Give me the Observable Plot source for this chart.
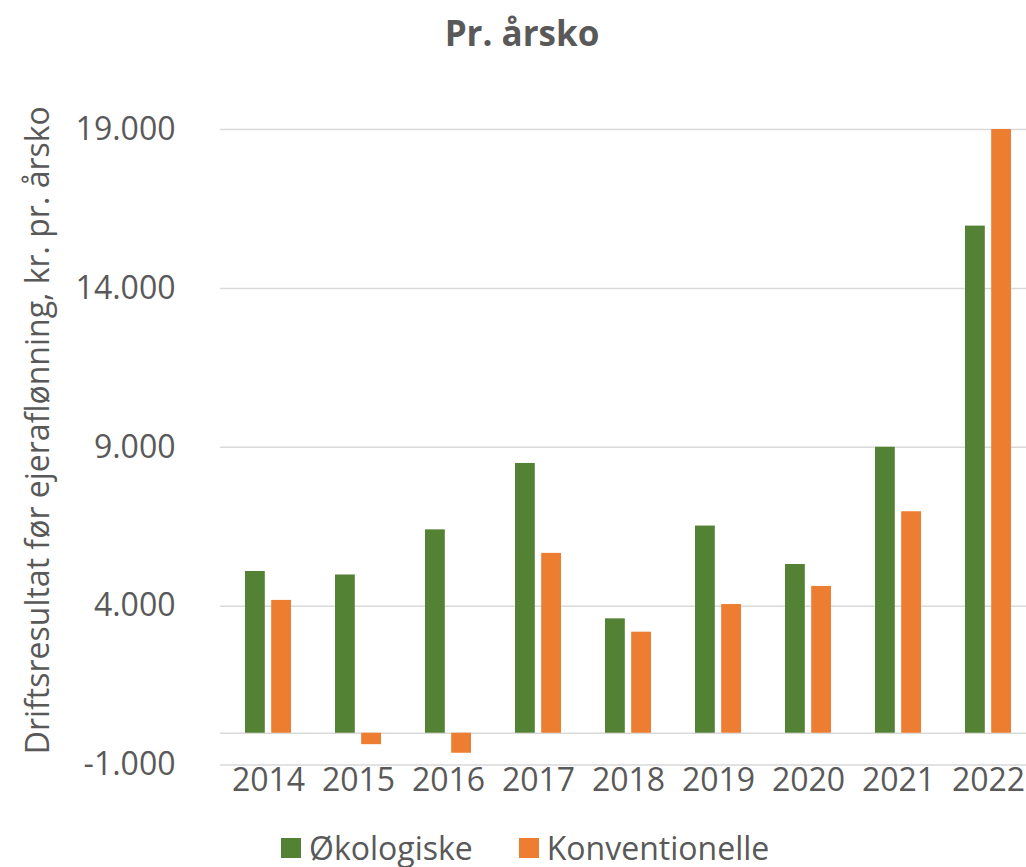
<!DOCTYPE html>
<html>
<head>
<meta charset="utf-8">
<script src="https://cdn.jsdelivr.net/npm/d3@7"></script>
<script src="https://cdn.jsdelivr.net/npm/@observablehq/plot@0.6"></script>
<style>
  html, body { margin: 0; padding: 0; background: #fff; }
  #wrap { width: 1026px; font-family: "Open Sans", sans-serif; color: #595959; }
  #title { height: 70px; line-height: 66px; text-align: center; font-weight: 700; font-size: 35px; padding-left: 18px; box-sizing: border-box; }
  #legend { height: 57px; display: flex; align-items: center; justify-content: flex-start; padding-left: 281px; padding-top: 18px; font-size: 32px; box-sizing: border-box; }
  .item { display: flex; align-items: center; margin-right: 46px; }
  .sw { width: 20px; height: 20px; margin-right: 8px; display: inline-block; }
  svg { display: block; overflow: visible; }
</style>
</head>
<body>
<div id="wrap">
  <div id="title">Pr. årsko</div>
  <div id="chart"></div>
  <div id="legend"></div>
</div>
<script>
const years = ["2014", "2015", "2016", "2017", "2018", "2019", "2020", "2021", "2022"];
const okologiske = [5090, 4980, 6400, 8490, 3600, 6520, 5310, 9000, 15960];
const konventionelle = [4180, -360, -630, 5660, 3180, 4050, 4620, 6970, 19000];
const seriesNames = ["Økologiske", "Konventionelle"];
const seriesColors = ["#548235", "#ED7D31"];
const yTicks = [-1000, 4000, 9000, 14000, 19000];
const yLabel = "Driftsresultat før ejeraflønning, kr. pr. årsko";

const fmt = d3.formatLocale({decimal: ",", thousands: ".", grouping: [3], currency: ["", ""], minus: "-"}).format(",");

const okoData = years.map((y, i) => ({year: y, value: okologiske[i], series: seriesNames[0]}));
const konvData = years.map((y, i) => ({year: y, value: konventionelle[i], series: seriesNames[1]}));

const chart = Plot.plot({
  width: 1026,
  height: 740,
  marginTop: 59,
  marginBottom: 45.5,
  marginLeft: 220,
  marginRight: 0,
  style: {fontFamily: "Open Sans, sans-serif", color: "#595959", background: "#fff", overflow: "visible"},
  x: {type: "band", domain: years, range: [220.1, 1036.8], padding: 0},
  y: {domain: [-1000, 19000], nice: false},
  color: {domain: seriesNames, range: seriesColors},
  marks: [
    Plot.gridY(yTicks, {stroke: "#D9D9D9", strokeOpacity: 1, strokeWidth: 1.5}),
    Plot.ruleY([0], {stroke: "#D9D9D9", strokeWidth: 1.5}),
    Plot.barY(okoData, {x: "year", y: "value", fill: "series", insetLeft: 22, insetRight: 48.2}),
    Plot.barY(konvData, {x: "year", y: "value", fill: "series", insetLeft: 48.2, insetRight: 22}),
    Plot.axisY(yTicks, {tickSize: 0, tickPadding: 45, tickFormat: fmt, fontSize: 32, label: null}),
    Plot.axisX({tickSize: 0, tickPadding: 3, fontSize: 32, label: null}),
    Plot.text([yLabel], {frameAnchor: "left", textAnchor: "middle", rotate: -90, dx: -182, dy: -17, fontSize: 32, fill: "#595959"})
  ]
});
document.getElementById("chart").appendChild(chart);

const legend = document.getElementById("legend");
seriesNames.forEach((name, i) => {
  const item = document.createElement("div");
  item.className = "item";
  const sw = document.createElement("span");
  sw.className = "sw";
  sw.style.background = seriesColors[i];
  const t = document.createElement("span");
  t.textContent = name;
  item.appendChild(sw);
  item.appendChild(t);
  legend.appendChild(item);
});
</script>
</body>
</html>
